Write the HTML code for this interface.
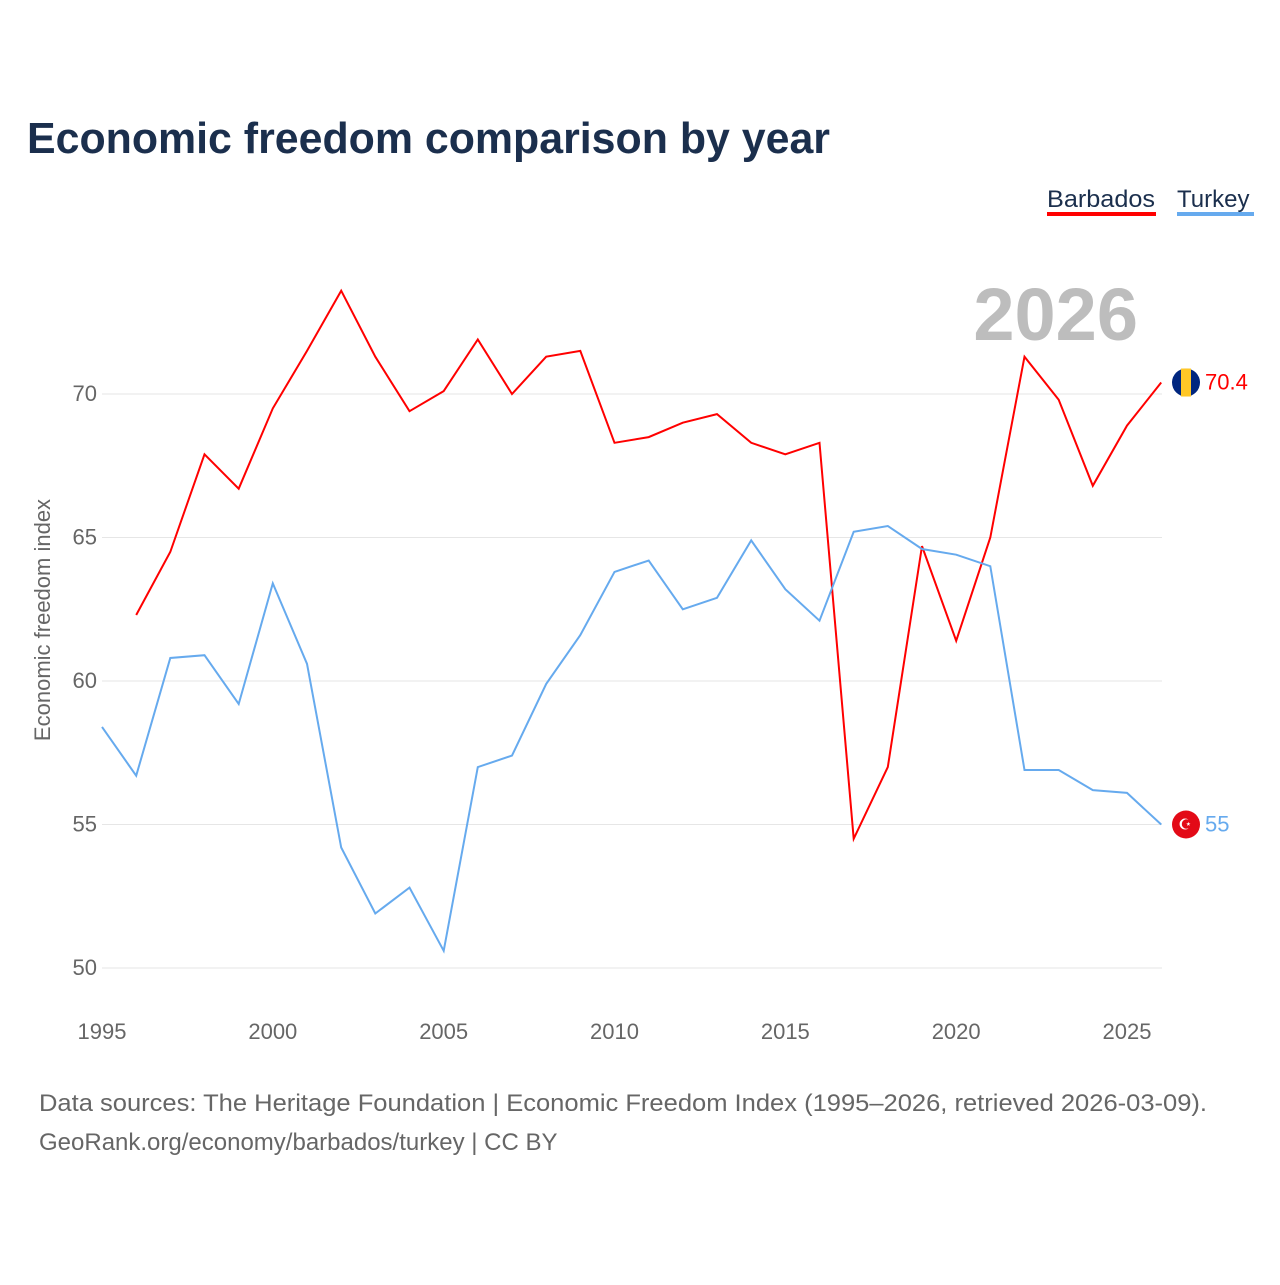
<!DOCTYPE html>
<html><head><meta charset="utf-8"><style>
body{margin:0;background:#fff;font-family:"Liberation Sans",sans-serif}
#wrap{position:relative;width:1280px;height:1280px}
</style></head><body>
<div id="wrap">
<svg id="chart" width="1280" height="1280"></svg>
</div>
<script>
const years=[1995,1996,1997,1998,1999,2000,2001,2002,2003,2004,2005,2006,2007,2008,2009,2010,2011,2012,2013,2014,2015,2016,2017,2018,2019,2020,2021,2022,2023,2024,2025,2026];
const barbados=[null,62.3,64.5,67.9,66.7,69.5,71.5,73.6,71.3,69.4,70.1,71.9,70.0,71.3,71.5,68.3,68.5,69.0,69.3,68.3,67.9,68.3,54.5,57.0,64.7,61.4,65.0,71.3,69.8,66.8,68.9,70.4];
const turkey=[58.4,56.7,60.8,60.9,59.2,63.4,60.6,54.2,51.9,52.8,50.6,57.0,57.4,59.9,61.6,63.8,64.2,62.5,62.9,64.9,63.2,62.1,65.2,65.4,64.6,64.4,64.0,56.9,56.9,56.2,56.1,55.0];
const yTicks=[50,55,60,65,70];
const xTicks=[1995,2000,2005,2010,2015,2020,2025];
const NS="http://www.w3.org/2000/svg";
const svg=document.getElementById('chart');
const X=y=>102+(y-1995)*(1025/30);
const Y=v=>394+(70-v)*28.7;
function mk(tag,attrs,parent,text){const e=document.createElementNS(NS,tag);for(const k in attrs)e.setAttribute(k,attrs[k]);if(text!==undefined)e.textContent=text;(parent||svg).appendChild(e);return e;}
let t=mk('text',{x:27,y:153,'font-size':44,'font-weight':'bold',fill:'#1b2f4d',textLength:803,lengthAdjust:'spacingAndGlyphs'},svg,'Economic freedom comparison by year');


yTicks.forEach(v=>{
 const l=mk('line',{x1:102,x2:1162,y1:Y(v),y2:Y(v),stroke:'#e6e6e6','stroke-width':1});
 
 
 const tx=mk('text',{x:97,y:Y(v)+7,'font-size':22,fill:'#666','text-anchor':'end'},svg,String(v));
 
 
});
xTicks.forEach(v=>{
 const tx=mk('text',{x:X(v),y:1039,'font-size':22,fill:'#666','text-anchor':'middle'},svg,String(v));
 
 
});
t=mk('text',{x:0,y:0,'font-size':22,fill:'#666','text-anchor':'middle',transform:'translate(50,620) rotate(-90)'},svg,'Economic freedom index');


t=mk('text',{x:1138,y:340,'font-size':74,'font-weight':'bold',fill:'#bdbdbd','text-anchor':'end'},svg,'2026');


function line(data,color,name){
 let d='';data.forEach((v,i)=>{if(v===null)return;d+=(d?'L':'M')+X(years[i]).toFixed(1)+','+Y(v).toFixed(1);});
 const p=mk('path',{d:d,fill:'none',stroke:color,'stroke-width':2});
 
 
}
line(barbados,'#ff0000','barbados');
line(turkey,'#66aaee','turkey');
const lastB=barbados[barbados.length-1],lastT=turkey[turkey.length-1];
let c=mk('circle',{cx:1186,cy:Y(lastB),r:14,fill:'#00267f'});


let r=mk('rect',{x:1181,y:Y(lastB)-14,width:10,height:28,fill:'#ffc726'});


t=mk('text',{x:1205,y:Y(lastB)+7,'font-size':22,fill:'#ff0000'},svg,String(lastB));


c=mk('circle',{cx:1186,cy:Y(lastT),r:14,fill:'#e30a17'});


t=mk('text',{x:1185,y:Y(lastT)+5,'font-size':15,fill:'#fff','text-anchor':'middle'},svg,'☪');


t=mk('text',{x:1205,y:Y(lastT)+7,'font-size':22,fill:'#66aaee'},svg,String(lastT));


t=mk('text',{x:1047,y:207,'font-size':24,fill:'#1b2f4d',textLength:108,lengthAdjust:'spacingAndGlyphs'},svg,'Barbados');


r=mk('rect',{x:1047,y:212,width:109,height:4,fill:'#ff0000'});


t=mk('text',{x:1177,y:207,'font-size':24,fill:'#1b2f4d'},svg,'Turkey');


r=mk('rect',{x:1177,y:212,width:77,height:4,fill:'#66aaee'});


t=mk('text',{x:39,y:1111,'font-size':24,fill:'#666',textLength:1168,lengthAdjust:'spacingAndGlyphs'},svg,'Data sources: The Heritage Foundation | Economic Freedom Index (1995–2026, retrieved 2026-03-09).');


t=mk('text',{x:39,y:1150,'font-size':24,fill:'#666'},svg,'GeoRank.org/economy/barbados/turkey | CC BY');


</script>
</body></html>
